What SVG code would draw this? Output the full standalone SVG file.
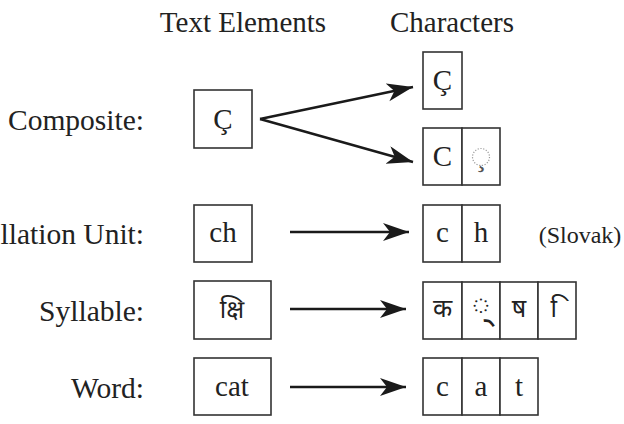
<svg xmlns="http://www.w3.org/2000/svg" width="624" height="424" viewBox="0 0 624 424">
<style>
text{font-family:"Liberation Serif","DejaVu Serif",serif;fill:#222;}
.lab{font-size:29.5px;text-anchor:end;}
.hdr{font-size:29px;text-anchor:middle;}
.ch{font-size:29px;text-anchor:middle;}
.dev{font-family:"Noto Sans Devanagari","Noto Serif Devanagari","Lohit Devanagari","FreeSerif",sans-serif;font-size:25px;text-anchor:middle;}
.box{fill:#fff;stroke:#333;stroke-width:1.6;}
.dot{fill:none;stroke:#999;stroke-width:1.2;stroke-dasharray:1.2 1.6;}
.arr{fill:none;stroke:#1a1a1a;stroke-width:2.4;marker-end:url(#ah);}
</style>
<defs>
<marker id="ah" markerUnits="userSpaceOnUse" markerWidth="28" markerHeight="20" refX="26" refY="9" orient="auto">
<path d="M0,0 L26,9 L0,18 L7,9 z" fill="#1a1a1a"/>
</marker>
</defs>
<rect width="624" height="424" fill="#fff"/>
<g id="headers">
<text class="hdr" x="243" y="32">Text Elements</text>
<text class="hdr" x="452" y="32">Characters</text>
</g>
<g id="labels">
<text class="lab" x="144" y="130">Composite:</text>
<text class="lab" x="144" y="244">llation Unit:</text>
<text class="lab" x="144" y="321">Syllable:</text>
<text class="lab" x="144" y="398">Word:</text>
</g>
<g id="te-composite">
<rect class="box" x="194" y="90" width="58" height="58"/>
<text class="ch" x="223" y="129">Ç</text>
</g>
<g id="ch-composite-precomposed">
<rect class="box" x="423" y="52" width="39" height="57"/>
<text class="ch" x="442.5" y="90">Ç</text>
</g>
<g id="ch-composite-decomposed">
<rect class="box" x="423" y="128" width="39" height="57"/>
<rect class="box" x="462" y="128" width="38" height="57"/>
<text class="ch" x="442.5" y="166">C</text>
<circle class="dot" cx="481" cy="157" r="8.5"/>
<text class="ch" x="481" y="166" style="fill:#555">¸</text>
</g>
<g id="te-collation">
<rect class="box" x="194" y="205" width="58" height="57"/>
<text class="ch" x="223" y="242">ch</text>
</g>
<g id="ch-collation">
<rect class="box" x="423" y="205" width="39" height="57"/>
<rect class="box" x="462" y="205" width="38" height="57"/>
<text class="ch" x="442.5" y="242">c</text>
<text class="ch" x="481" y="242">h</text>
<text x="580" y="243" style="font-size:24px;text-anchor:middle">(Slovak)</text>
</g>
<g id="te-syllable">
<rect class="box" x="194" y="281" width="77" height="58"/>
<text class="dev" x="232" y="318">क्षि</text>
</g>
<g id="ch-syllable">
<rect class="box" x="423" y="282" width="39" height="57"/>
<rect class="box" x="462" y="282" width="38" height="57"/>
<rect class="box" x="500" y="282" width="38" height="57"/>
<rect class="box" x="538" y="282" width="38" height="57"/>
<text class="dev" x="442.5" y="317">क</text>
<text class="dev" x="481" y="317" style="font-size:36px">◌्</text>
<text class="dev" x="519" y="317">ष</text>
<text class="dev" x="557" y="317">&#160;ि</text>
</g>
<g id="te-word">
<rect class="box" x="194" y="358" width="77" height="57"/>
<text class="ch" x="232" y="396">cat</text>
</g>
<g id="ch-word">
<rect class="box" x="423" y="358" width="39" height="57"/>
<rect class="box" x="462" y="358" width="38" height="57"/>
<rect class="box" x="500" y="358" width="38" height="57"/>
<text class="ch" x="442.5" y="396">c</text>
<text class="ch" x="481" y="396">a</text>
<text class="ch" x="519" y="396">t</text>
</g>
<g id="connectors">
<line class="arr" x1="260" y1="119" x2="413" y2="87"/>
<line class="arr" x1="260" y1="119" x2="413" y2="162"/>
<line class="arr" x1="290" y1="232" x2="409" y2="232"/>
<line class="arr" x1="290" y1="309" x2="406" y2="309"/>
<line class="arr" x1="290" y1="387" x2="406" y2="387"/>
</g>
</svg>
